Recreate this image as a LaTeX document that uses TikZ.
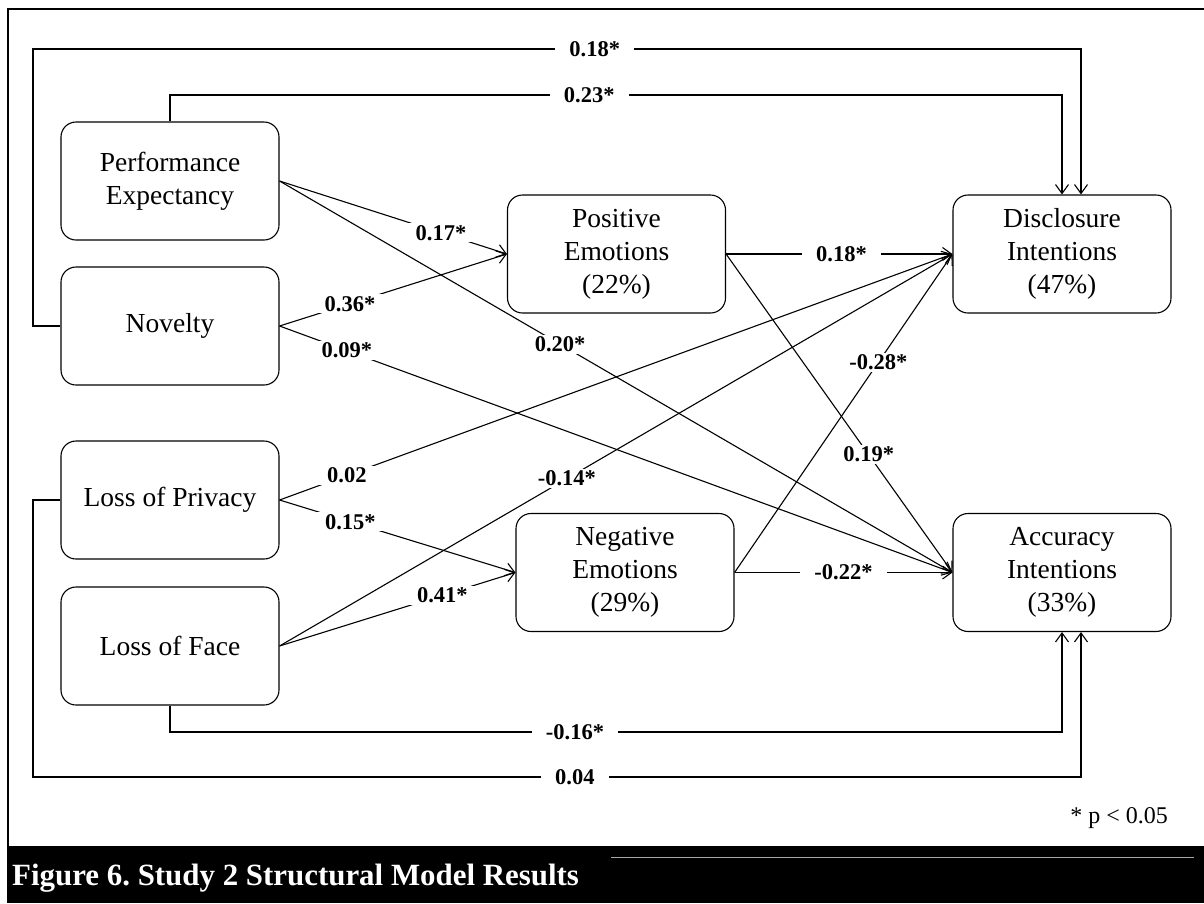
\documentclass[tikz,border=0pt]{standalone}
\usepackage{fontspec}
\setmainfont{Liberation Serif}
\usetikzlibrary{arrows.meta}
\frenchspacing
\newcommand\boxfont{\fontsize{27.5}{33}\selectfont}
\newcommand\labfont{\bfseries\fontsize{22.5}{25}\selectfont}
\newcommand\capfont{\bfseries\fontsize{30.9}{34}\selectfont}
\begin{document}
\begin{tikzpicture}[x=1pt,y=-1pt,
  box/.style={draw, rounded corners=15pt, minimum width=218pt, minimum height=118pt,
    align=center, font=\boxfont, inner sep=2pt, line width=1.1pt},
  arr/.style={-{Straight Barb[length=9pt,width=13pt]}, line width=1.1pt},
  lab/.style={fill=white, font=\labfont, inner xsep=14pt, inner ysep=2pt},
  ]
\useasboundingbox (0,0) rectangle (1204,903);

% outer frame and caption bar
\draw[line width=2.5pt] (1204,9) -- (8,9) -- (8,846);
\fill[black] (7,846) rectangle (1204,903);
\draw[gray!70, line width=1pt] (611,857) -- (1194,857);
\node[anchor=base west, text=white, font=\capfont, inner sep=0pt] (cap) at (12,885)
  {Figure 6. Study 2 Structural Model Results};
\node[anchor=base east, font=\fontsize{24}{26}\selectfont, inner sep=0pt] (note) at (1168,823)
  {* p < 0.05};

% constructs
\node[box] (pe)  at (170,181)  {Performance\\Expectancy};
\node[box] (nov) at (170,326)  {Novelty};
\node[box] (lop) at (170,500)  {Loss of Privacy};
\node[box] (lof) at (170,646)  {Loss of Face};
\node[box] (pos) at (616.5,254) {Positive\\Emotions\\(22\%)};
\node[box] (neg) at (625,572.5) {Negative\\Emotions\\(29\%)};
\node[box] (dis) at (1062,254) {Disclosure\\Intentions\\(47\%)};
\node[box] (acc) at (1062,572.5) {Accuracy\\Intentions\\(33\%)};

% direct paths routed around the model
\draw[arr] (nov.west) -- (33,326) -- (33,49) -- node[lab,pos=0.536]{0.18*} (1081,49)
  -- ([xshift=19pt]dis.north);
\draw[arr] (pe.north) -- (170,95) -- node[lab,pos=0.47]{0.23*} (1062,95) -- (dis.north);
\draw[arr] (lof.south) -- (170,732) -- node[lab,pos=0.454]{-0.16*} (1062,732) -- (acc.south);
\draw[arr] (lop.west) -- (33,500) -- (33,777) -- node[lab,pos=0.517]{0.04} (1081,777)
  -- ([xshift=19pt]acc.south);

% diagonal paths
\draw[arr] (pe.east)  -- node[lab,pos=0.71]{0.17*}  (pos.west);
\draw[arr] (pe.east)  -- node[lab,pos=0.417]{0.20*} (acc.west);
\draw[arr] (nov.east) -- node[lab,pos=0.31]{0.36*} (pos.west);
\draw[arr] (nov.east) -- node[lab,pos=0.1]{0.09*}  (acc.west);
\draw[arr] (lop.east) -- node[lab,pos=0.1]{0.02}   (dis.west);
\draw[arr] (lop.east) -- node[lab,pos=0.3]{0.15*} (neg.west);
\draw[arr] (lof.east) -- node[lab,pos=0.69]{0.41*} (neg.west);
\draw[arr] (lof.east) -- node[lab,pos=0.427]{-0.14*} (dis.west);
\draw[arr] (pos.east) -- node[lab,pos=0.51]{0.18*} (dis.west);
\draw[arr] (pos.east) -- node[lab,pos=0.63]{0.19*}  (acc.west);
\draw[arr] (neg.east) -- node[lab,pos=0.66]{-0.28*} (dis.west);
\draw[arr] (neg.east) -- node[lab,pos=0.5]{-0.22*} (acc.west);
\end{tikzpicture}
\end{document}
